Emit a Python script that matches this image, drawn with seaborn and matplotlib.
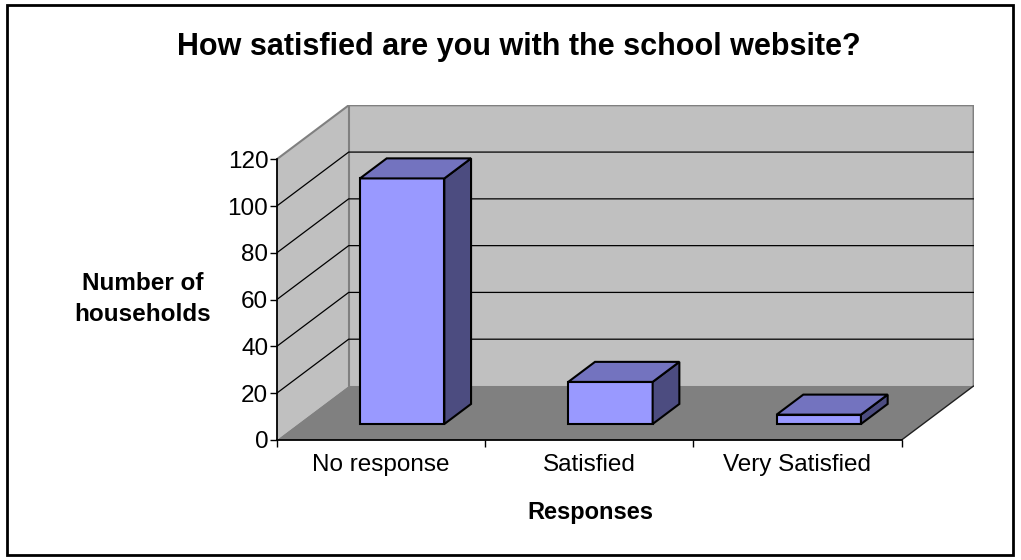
import matplotlib
matplotlib.use("Agg")
import matplotlib.pyplot as plt
import seaborn as sns
from matplotlib.patches import Polygon, Rectangle

# ---- data ----
categories = ["No response", "Satisfied", "Very Satisfied"]
households = [105, 18, 4]
y_ticks = [0, 20, 40, 60, 80, 100, 120]
title = "How satisfied are you with the school website?"
x_title = "Responses"
y_title = "Number of\nhouseholds"

# ---- style ----
sns.set_theme(style="white")
plt.rcParams['font.family'] = ['Liberation Sans', 'DejaVu Sans']

FRONT_C, TOP_C, SIDE_C = "#9999FF", "#7373BF", "#4C4C80"
WALL_C, FLOOR_C, WALL_EDGE = "#C0C0C0", "#808080", "#808080"

# oblique depth (category units, value units)
DX, DY = 0.3456, 23.1
F0, F1 = 0.296, 0.667
BAR_W = 0.405

W, H = 1021, 560
fig = plt.figure(figsize=(W / 100, H / 100), dpi=100)
fig.patch.set_facecolor("white")

n = len(categories)
ymax = y_ticks[-1]
x0, x1 = -0.5, n - 0.5
ax = fig.add_axes([276.7 / W, (H - 440) / H, 696.9 / W, 334.7 / H])
ax.set_facecolor("none")

sns.barplot(x=categories, y=households, width=BAR_W, color=FRONT_C, saturation=1,
            edgecolor="black", linewidth=1.5, errorbar=None, ax=ax, zorder=4)
bars = list(ax.patches)

# walls & floor
ax.add_patch(Polygon([(x0, 0), (x0, ymax), (x0 + DX, ymax + DY), (x0 + DX, DY)],
                     fc=WALL_C, ec="none", zorder=0))
ax.add_patch(Polygon([(x0 + DX, DY), (x0 + DX, ymax + DY), (x1 + DX, ymax + DY), (x1 + DX, DY)],
                     fc=WALL_C, ec="none", zorder=0))
ax.add_patch(Polygon([(x0, 0), (x1, 0), (x1 + DX, DY), (x0 + DX, DY)],
                     fc=FLOOR_C, ec="none", zorder=0.5))
# wall borders
ax.plot([x0, x0 + DX, x1 + DX, x1 + DX], [ymax, ymax + DY, ymax + DY, DY],
        color=WALL_EDGE, lw=1.5, zorder=1, solid_joinstyle="miter")
ax.plot([x0 + DX, x0 + DX], [DY, ymax + DY], color=WALL_EDGE, lw=1.5, zorder=1)
ax.plot([x1, x1 + DX], [0, DY], color="#202020", lw=1, zorder=1)
# gridlines
for t in y_ticks[1:-1]:
    ax.plot([x0, x0 + DX, x1 + DX], [t, t + DY, t + DY], color="black", lw=0.9, zorder=1.5)

# 3D bars
d = F1 - F0
for p in bars:
    bx, bw, bh = p.get_x() + F0 * DX, p.get_width(), p.get_height()
    by = F0 * DY
    p.set_x(bx)
    p.set_y(by)
    top = Polygon([(bx, by + bh), (bx + bw, by + bh), (bx + bw + d * DX, by + bh + d * DY),
                   (bx + d * DX, by + bh + d * DY)], fc=TOP_C, ec="black", lw=1.5, zorder=4,
                  joinstyle="miter")
    side = Polygon([(bx + bw, by), (bx + bw + d * DX, by + d * DY),
                    (bx + bw + d * DX, by + bh + d * DY), (bx + bw, by + bh)],
                   fc=SIDE_C, ec="black", lw=1.5, zorder=4, joinstyle="miter")
    ax.add_patch(side)
    ax.add_patch(top)

ax.set_xlim(x0, x1 + DX)
ax.set_ylim(0, ymax + DY)

# axes spines
for s in ["top", "right"]:
    ax.spines[s].set_visible(False)
ax.spines["left"].set_bounds(0, ymax)
ax.spines["bottom"].set_bounds(x0, x1)
for s in ["left", "bottom"]:
    ax.spines[s].set_color("black")
    ax.spines[s].set_linewidth(1.3)
    ax.spines[s].set_zorder(2)

ax.set_yticks(y_ticks)
ax.tick_params(axis="y", left=True, direction="out", length=5, width=1, color="black",
               pad=1, labelsize=17.5, labelcolor="black")
ax.set_xticks([x0 + i for i in range(n + 1)])
ax.set_xticks(list(range(n)), minor=True)
ax.set_xticklabels(categories, minor=True)
ax.tick_params(axis="x", which="major", bottom=True, direction="out", length=5, width=1,
               color="black", labelbottom=False)
ax.tick_params(axis="x", which="minor", bottom=True, length=0, pad=10, labelsize=17.5,
               labelcolor="black")
ax.set_xlabel("")
ax.set_ylabel("")

# texts
fig.text(519 / W, 1 - 46.7 / H, title, ha="center", va="center", fontsize=22,
         fontweight="bold", color="black")
fig.text(590 / W, 1 - 512 / H, x_title, ha="center", va="center", fontsize=17,
         fontweight="bold", color="black")
fig.text(143 / W, 1 - 299 / H, y_title, ha="center", va="center", fontsize=17.5,
         fontweight="bold", color="black", multialignment="center", linespacing=1.45)

# outer frame
fig.add_artist(Rectangle((7 / W, 1 - 555 / H), 1006 / W, 550 / H, transform=fig.transFigure,
                         fill=False, ec="black", lw=2))

fig.savefig("out.png", dpi=100)
